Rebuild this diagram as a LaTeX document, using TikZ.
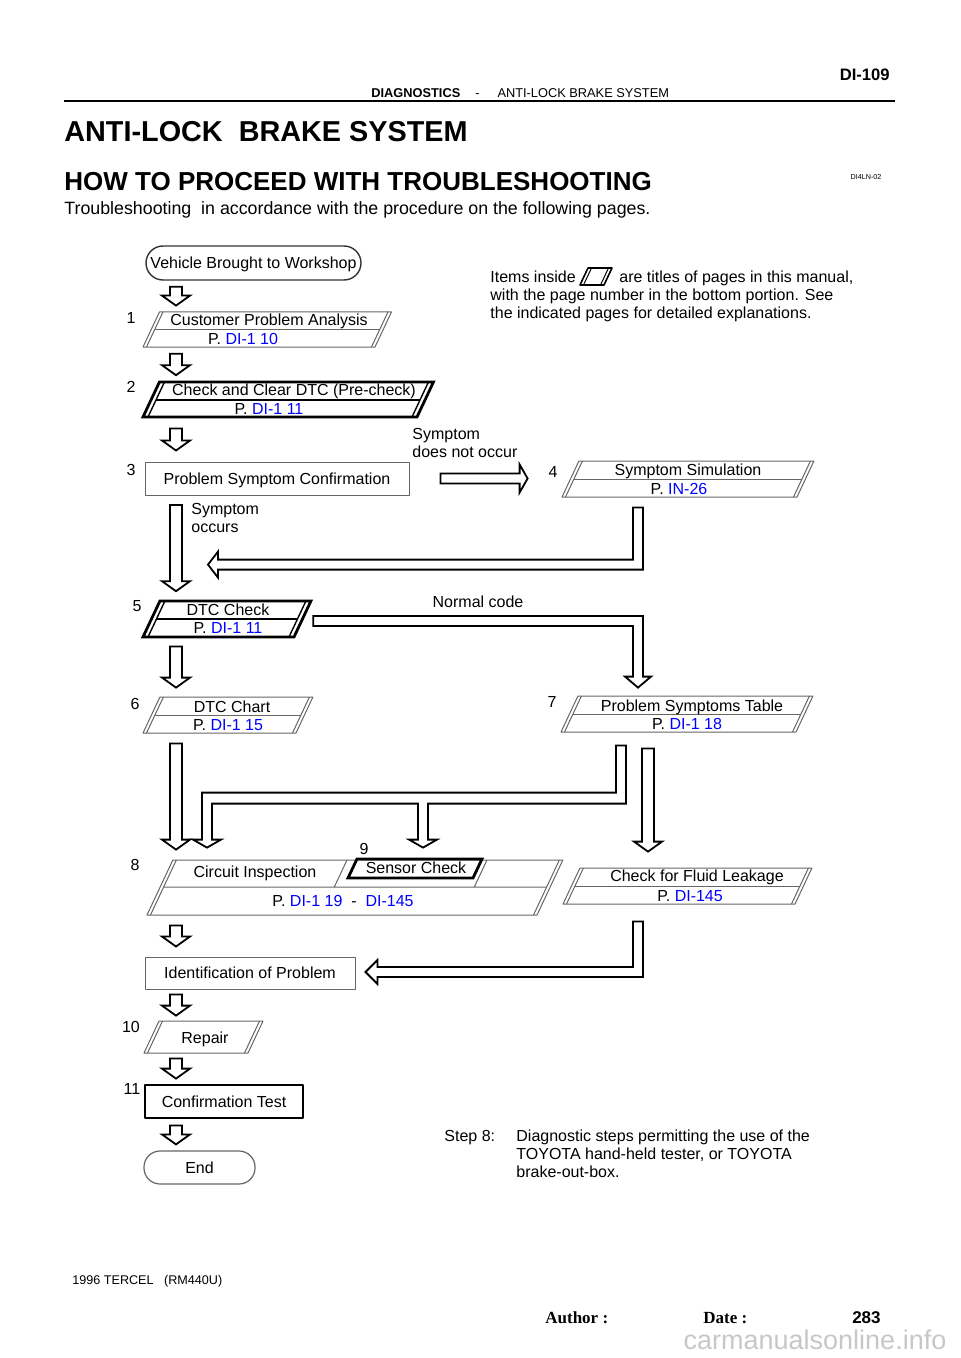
\documentclass[tikz,border=0pt]{standalone}
\usepackage{fontspec}
\setmainfont{Liberation Sans}
\newfontfamily\timesfont{Liberation Serif}
\usetikzlibrary{calc,fit}

\tikzset{
  boxthin/.style={draw=black!60, line width=0.5pt},
  innerthin/.style={draw=black!60, line width=0.5pt},
  midthin/.style={draw=black!60, line width=0.5pt},
  boxthick/.style={draw=black, line width=1.4pt, line join=miter},
  innerthick/.style={draw=black, line width=0.7pt},
  midthick/.style={draw=black, line width=1pt},
  hollow/.style={draw=black, line width=0.9pt, fill=white, line join=miter},
  plainbox/.style={draw=black!60, line width=0.5pt},
}

\newcommand\pg[1]{P. \textcolor{blue}{#1}}

% slanted title box: look, name, x bottom-left, x bottom-right, y top, y bottom, mid line
\newcommand\pbox[7]{%
  \pgfmathsetmacro\pslant{0.47*(#6-#5)}%
  \pgfmathsetmacro\pmidy{(#5+#6)/2}%
  \def\plook{#1}\def\pthick{thick}%
  \ifx\plook\pthick\def\pgap{5}\else\def\pgap{3.5}\fi
  \draw[box#1] (#3,#6) -- (#3+\pslant,#5) -- (#4+\pslant,#5) -- (#4,#6) -- cycle;
  \draw[inner#1] (#3+\pgap,#6) -- (#3+\pslant+\pgap,#5) (#4-\pgap,#6) -- (#4+\pslant-\pgap,#5);
  \ifnum#7=1 \draw[mid#1] (#3+\pgap+\pslant/2,\pmidy) -- (#4-\pgap+\pslant/2,\pmidy);\fi
  \node[fit={(#3,#6) (#4+\pslant,#5)}] (#2) {};
}

% hollow arrow straight down: gap, column, from, to
\newcommand\stepdown[4][3pt]{%
  \draw[hollow] let \p1=(#2 |- #3.south), \p2=(#2 |- #4.north) in
    (\x1-3pt,\y1-#1) -- (\x1+3pt,\y1-#1) -- (\x1+3pt,\y2+#1+5pt) -- (\x1+7pt,\y2+#1+5pt)
    -- (\x1,\y2+#1) -- (\x1-7pt,\y2+#1+5pt) -- (\x1-3pt,\y2+#1+5pt) -- cycle;
}

\begin{document}
\begin{tikzpicture}[x=0.5pt, y=-0.5pt, line join=round, font=\fontsize{8}{9}\selectfont, every node/.style={inner sep=0pt, text depth=0pt}]
\useasboundingbox (0,0) rectangle (960,1358);
% columns of the block arrows
\coordinate (colA) at (176,0);
\coordinate (colB) at (638,0);
\coordinate (colC) at (621,0);
\coordinate (colD) at (207,0);
\coordinate (colE) at (423,0);
\coordinate (colF) at (648,0);

% page head
\node[anchor=east, font=\bfseries\fontsize{8.3}{10}\selectfont] (pagecode) at (890,75) {DI-109};
\node[anchor=west, font=\fontsize{6.4}{8}\selectfont] (sect) at (371,93) {\textbf{DIAGNOSTICS}\hspace{7.5pt}-\hspace{9pt}ANTI-LOCK BRAKE SYSTEM};
\draw[line width=1pt] (64,101) -- (895,101);
\node[anchor=west, font=\bfseries\fontsize{14.4}{16}\selectfont] (title) at (64,131) {ANTI-LOCK\ \ BRAKE SYSTEM};
\node[anchor=west, font=\bfseries\fontsize{13}{15}\selectfont] (howto) at (64,181) {HOW TO PROCEED WITH TROUBLESHOOTING};
\node[font=\fontsize{3.6}{4}\selectfont] (doccode) at (866,177) {DI4LN-02};
\node[anchor=west, font=\fontsize{8.9}{10}\selectfont] (intro) at (64,208) {Troubleshooting\ \ in accordance with the procedure on the following pages.};

% note on the title boxes
\node[anchor=west] (note1) at (490,277) {Items inside};
\draw[black, line width=0.8pt] (580,285) -- (588,268) -- (612,268) -- (604,285) -- cycle;
\draw[black, line width=0.5pt] (583.5,285) -- (591.5,268) (608.5,268) -- (600.5,285);
\node[anchor=west] (note2) at (619,277) {are titles of pages in this manual,};
\node[anchor=west, align=left] (note3) at (490,304) {with the page number in the bottom portion. See\\the indicated pages for detailed explanations.};

% start
\node[draw=black!80, line width=0.7pt, rounded corners=8.5pt, minimum width=107.5pt, minimum height=17pt] (veh) at (253.5,263) {Vehicle Brought to Workshop};

% step 1
\node (n1) at (131,318) {1};
\pbox{thin}{cpa}{143}{375}{312}{347}{1}
\node (cpa-t) at (269,320) {Customer Problem Analysis};
\node (cpa-p) at (243,339) {\pg{DI-1 10}};

% step 2
\node (n2) at (131,387) {2};
\pbox{thick}{cdc}{143}{417}{382}{417}{1}
\node (cdc-t) at (294,390) {Check and Clear DTC (Pre-check)};
\node (cdc-p) at (269,409) {\pg{DI-1 11}};

% step 3
\node (n3) at (131,470) {3};
\node[plainbox, minimum width=132pt, minimum height=16.5pt] (psc) at (277,478.5) {Problem Symptom Confirmation};
\node[anchor=west, align=left] (nooccur) at (412,443) {Symptom\\does not occur};
\node[anchor=west, align=left] (occurs) at (191,518) {Symptom\\occurs};

% step 4
\node (n4) at (553,472) {4};
\pbox{thin}{sim}{562}{797}{461}{497}{1}
\node (sim-t) at (688,470) {Symptom Simulation};
\node (sim-p) at (679,489) {\pg{IN-26}};

% step 5
\node (n5) at (137,606) {5};
\pbox{thick}{dtc}{143}{294}{601}{637}{1}
\node (dtc-t) at (228,610) {DTC Check};
\node (dtc-p) at (228,628) {\pg{DI-1 11}};
\node (normal) at (478,602) {Normal code};

% step 6
\node (n6) at (135,704) {6};
\pbox{thin}{chart}{143}{296}{697}{733}{1}
\node (chart-t) at (232,707) {DTC Chart};
\node (chart-p) at (228,725) {\pg{DI-1 15}};

% step 7
\node (n7) at (552,702) {7};
\pbox{thin}{pst}{561}{796}{696}{732}{1}
\node (pst-t) at (692,706) {Problem Symptoms Table};
\node (pst-p) at (687,724) {\pg{DI-1 18}};

% step 8 and 9
\node (n8) at (135,865) {8};
\pbox{thin}{ci}{147}{537}{860}{915}{0}
\draw[midthin] (164,887) -- (546,887) (347,860) -- (334.3,887) (487,860) -- (474.3,887);
\draw[boxthick] (348,878) -- (357,859) -- (482,859) -- (473,878) -- cycle;
\node[fit={(348,878) (482,859)}] (sen) {};
\node (n9) at (364,849) {9};
\node (ci-t) at (255,872) {Circuit Inspection};
\node (sen-t) at (416,868) {Sensor Check};
\node (ci-p) at (343,901) {\pg{DI-1 19}\ \ -\ \ \textcolor{blue}{DI-145}};

\pbox{thin}{flu}{563}{795}{868}{904}{1}
\node (flu-t) at (697,876) {Check for Fluid Leakage};
\node (flu-p) at (690,896) {\pg{DI-145}};

% steps to the end
\node[plainbox, minimum width=105pt, minimum height=16pt] (idp) at (250,973) {Identification of Problem};
\node (n10) at (131,1027) {10};
\pbox{thin}{rep}{144}{248}{1021}{1053}{0}
\node (rep-t) at (205,1038) {Repair};
\node (n11) at (132,1089) {11};
\node[draw, line width=1.4pt, minimum width=79pt, minimum height=16.5pt] (conf) at (224,1101.5) {Confirmation Test};
\node[draw=black!60, line width=0.6pt, rounded corners=8pt, minimum width=55.5pt, minimum height=16.5pt] (finish) at (199.5,1167.5) {End};

% straight arrows
\stepdown{colA}{veh}{cpa}
\stepdown[3.2pt]{colA}{cpa}{cdc}
\stepdown[5.5pt]{colA}{cdc}{psc}
\stepdown[4.7pt]{colA}{psc}{dtc}
\stepdown[4.5pt]{colA}{dtc}{chart}
\stepdown[5pt]{colA}{chart}{ci}
\stepdown[8pt]{colF}{pst}{flu}
\stepdown[5pt]{colA}{ci}{idp}
\stepdown[2.5pt]{colA}{idp}{rep}
\stepdown[2.5pt]{colA}{rep}{conf}
\stepdown{colA}{conf}{finish}

% symptom does not occur
\draw[hollow] let \p1=(psc.east), \p2=(sim.west) in
  (\x1+15.5pt,\y1+2.5pt) -- (\x2-21pt,\y1+2.5pt) -- (\x2-21pt,\y1+7pt) -- (\x2-17pt,\y1)
  -- (\x2-21pt,\y1-7pt) -- (\x2-21pt,\y1-2.5pt) -- (\x1+15.5pt,\y1-2.5pt) -- cycle;
% back from the simulation
\draw[hollow] let \p1=(colB |- sim.south), \p2=(colA |- dtc.north) in
  (\x1-2.5pt,\y1-5pt) -- (\x1+2.5pt,\y1-5pt) -- (\x1+2.5pt,\y2+15.5pt) -- (\x2+21pt,\y2+15.5pt)
  -- (\x2+21pt,\y2+11.5pt) -- (\x2+16pt,\y2+18pt) -- (\x2+21pt,\y2+24.5pt) -- (\x2+21pt,\y2+20.5pt)
  -- (\x1-2.5pt,\y2+20.5pt) -- cycle;
% normal code
\draw[hollow] let \p1=(dtc.east), \p2=(colB |- pst.north) in
  (\x1+1pt,\y1+1.5pt) -- (\x2+2.5pt,\y1+1.5pt) -- (\x2+2.5pt,\y2+9.5pt) -- (\x2+6.5pt,\y2+9.5pt)
  -- (\x2,\y2+4pt) -- (\x2-6.5pt,\y2+9.5pt) -- (\x2-2.5pt,\y2+9.5pt) -- (\x2-2.5pt,\y1-3.5pt)
  -- (\x1+1pt,\y1-3.5pt) -- cycle;
% table to circuit inspection and sensor check
\draw[hollow] let \p1=(colC |- pst.south), \p2=(colD |- ci.north), \p3=(colE |- sen.north) in
  (\x1-2.5pt,\y1-6.5pt) -- (\x1+2.5pt,\y1-6.5pt) -- (\x1+2.5pt,\y2+28pt) -- (\x3+2.5pt,\y2+28pt)
  -- (\x3+2.5pt,\y2+10pt) -- (\x3+7pt,\y2+10pt) -- (\x3,\y2+6pt) -- (\x3-7pt,\y2+10pt)
  -- (\x3-2.5pt,\y2+10pt) -- (\x3-2.5pt,\y2+28pt) -- (\x2+2.5pt,\y2+28pt) -- (\x2+2.5pt,\y2+10pt)
  -- (\x2+7pt,\y2+10pt) -- (\x2,\y2+6pt) -- (\x2-7pt,\y2+10pt) -- (\x2-2.5pt,\y2+10pt)
  -- (\x2-2.5pt,\y2+33.5pt) -- (\x1-2.5pt,\y2+33.5pt) -- cycle;
% fluid leakage to identification
\draw[hollow] let \p1=(colB |- flu.south), \p2=(idp.east) in
  (\x1-2.5pt,\y1-8.5pt) -- (\x1+2.5pt,\y1-8.5pt) -- (\x1+2.5pt,\y2-2pt) -- (\x2+11pt,\y2-2pt)
  -- (\x2+11pt,\y2-5.5pt) -- (\x2+5pt,\y2+0.5pt) -- (\x2+11pt,\y2+6.5pt) -- (\x2+11pt,\y2+3pt)
  -- (\x1-2.5pt,\y2+3pt) -- cycle;

% remark on step 8
\node[anchor=west] (step8) at (444,1136) {Step 8:};
\node[anchor=west, align=left] (step8text) at (516,1154) {Diagnostic steps permitting the use of the\\TOYOTA hand-held tester, or TOYOTA\\brake-out-box.};

% page foot
\node[anchor=west, font=\fontsize{6.3}{8}\selectfont] (model) at (72,1280) {1996 TERCEL\ \ \ (RM440U)};
\node[anchor=west, font=\timesfont\bfseries\fontsize{8.5}{10}\selectfont] (author) at (545,1318) {Author :};
\node[anchor=west, font=\timesfont\bfseries\fontsize{8.5}{10}\selectfont] (date) at (703,1318) {Date :};
\node[anchor=east, font=\bfseries\fontsize{8.5}{10}\selectfont] (pageno) at (881,1318) {283};
\node[text=black!22, font=\fontsize{13.5}{15}\selectfont] (wm) at (815,1340) {carmanualsonline.info};
\end{tikzpicture}
\end{document}
